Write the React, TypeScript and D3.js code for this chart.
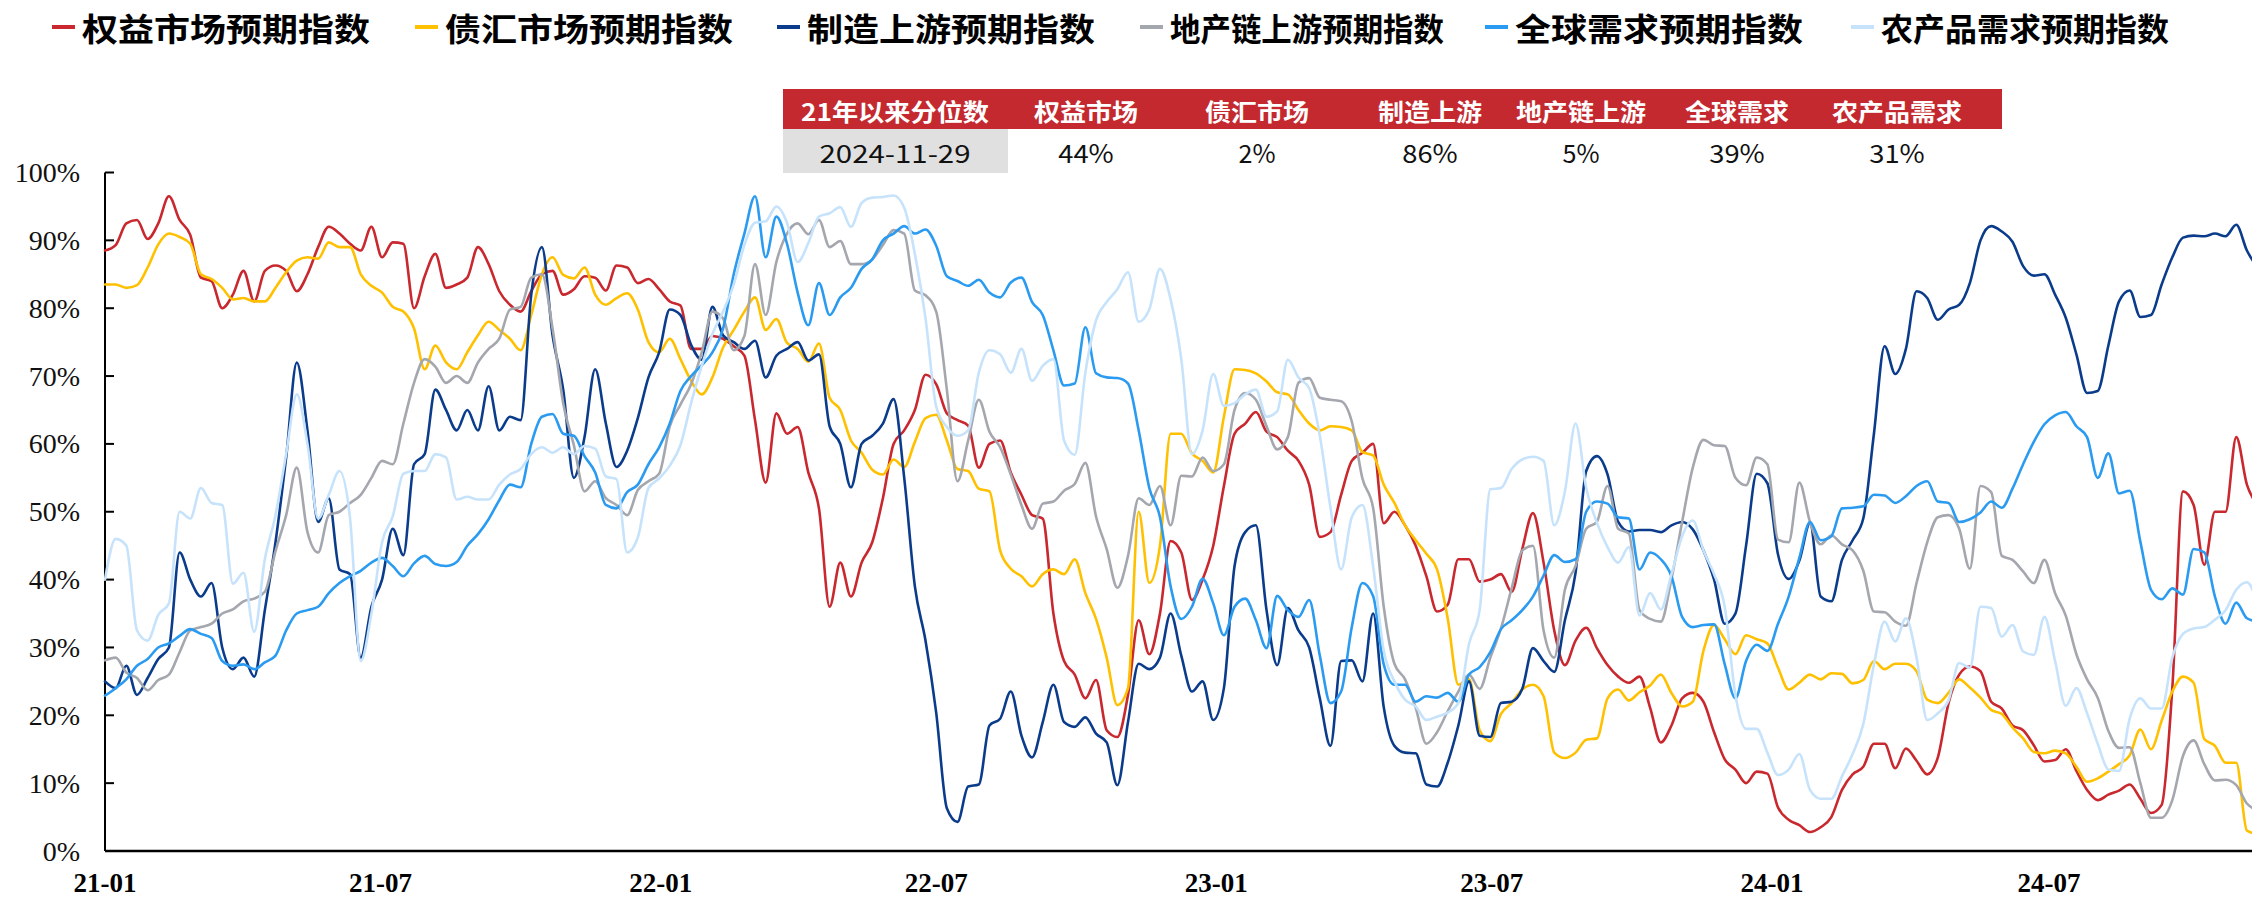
import React from "react";
import * as d3 from "d3";

// ---------- DATA (weekly samples from 2021-01-01) ----------
const seriesNames = ["权益市场预期指数", "债汇市场预期指数", "制造上游预期指数", "地产链上游预期指数", "全球需求预期指数", "农产品需求预期指数"];

const equityIdx = [
  88.5, 89.3, 92.5, 93, 90.2, 92.5, 96.5, 93, 90.8, 84.5, 84, 80, 82, 85.5, 81, 85.5, 86.3, 85.5, 82.5, 85, 89, 92, 91, 89.5, 88.5, 92, 87.5, 89.7, 89.5, 80, 84.7, 88, 83, 83.5, 84.5, 89, 86.5, 82.5, 80.5, 79.5, 82.5, 85, 85.5,
  82, 82.8, 84.7, 84.5, 82.6, 86.3, 86, 83.7, 84.3, 82.8, 81, 80.4, 74, 74, 75.9, 75.5, 74.4, 73, 63.5, 54.3, 64.5, 61.5, 62.5, 55.8, 50.5, 36, 42.5, 37.5, 42.5, 45.5, 52, 60, 62, 65, 70.2, 68.8, 64.5, 63.5, 62.7, 56.5, 60, 60.5, 55.8, 52.5, 49.5, 49, 35,
  28, 26, 22.5, 25.2, 17.8, 16.8, 23, 34, 29, 35, 45.7, 44, 37, 40, 45, 53.8, 61.5, 63, 64.7, 61.8, 61, 59, 57.5, 54, 46.3, 47, 52.5, 57.5, 58.7, 60, 48.3, 50, 48, 45, 40.5, 35.3, 36.3, 43, 43, 39.7, 40, 40.8, 38.2, 44.5, 49.8, 42.5, 32.5,
  27.4, 31, 32.9, 29.9, 27.4, 25.7, 24.8, 25.7, 21.1, 16, 18.5, 22.5, 23.3, 22, 17.5, 13.5, 12, 10, 11.7, 11.4, 6.4, 4.6, 3.8, 2.8, 3.5, 5, 9, 11.3, 12.4, 15.8, 15.8, 12.2, 15.1, 13.3, 11.3, 13.8, 21.8, 26, 27.2, 26.5, 22, 21, 18.5, 17.8, 15.6, 13.2, 13.4,
  15, 11.8, 9, 7.5, 8.3, 8.9, 9.8, 7.7, 5.6, 6.8, 24, 53, 51, 42.2, 50, 50, 61, 54, 51,
];

const bondFxIdx = [
  83.5, 83.5, 83, 83.4, 86, 89.4, 91, 90.5, 89.5, 85, 84.3, 83, 81.3, 81.5, 81, 81, 83, 85.3, 87, 87.5, 87.3, 89.7, 89, 89, 85, 83.3, 82.3, 80.2, 79.5, 77, 71, 74.5, 72, 71, 73.5, 76, 78, 76.8, 75.5, 73.8, 79, 85, 87.5,
  84.9, 84.4, 86, 82, 80.5, 81.5, 82.2, 79.8, 75, 73.5, 75.5, 72.5, 69.3, 67.3, 69.8, 74.2, 76.8, 79.5, 81.6, 76.8, 78.4, 74.9, 74, 72.1, 74.8, 66.8, 65, 60.5, 58.7, 56.2, 55.5, 57.7, 56.6, 60.3, 63.8, 64.3, 60.5, 56.3, 56, 53.4, 53, 44.3, 41.6, 40.5, 39, 40.8, 41.5,
  40.8, 43, 38, 34.2, 28.5, 21.5, 24, 50, 39.5, 45, 61.5, 61.5, 58.6, 57.5, 55.8, 64, 71, 70.9, 70.4, 69.2, 67.6, 67.3, 65, 63, 62, 62.6, 62.5, 62, 58.8, 58.3, 54, 51.3, 48, 45.8, 43.8, 41.5, 34.3, 24.5, 25.3, 17.8, 16.2, 20.2, 21.8, 23.8, 24.5, 22.8, 14.5,
  13.7, 14.5, 16.4, 16.6, 22.5, 23.8, 22.2, 23.4, 24.4, 26, 23.3, 21.3, 22, 29.5, 33.3, 31.2, 29, 31.8, 31.2, 30.6, 27, 23.8, 24.8, 26, 25.3, 26.2, 26.1, 24.7, 25.2, 28, 26.8, 27.6, 27.6, 26.5, 22.3, 21.8, 23.3, 25.3, 24.1, 22.6, 20.8, 20.2, 18.2, 16.6, 14.6, 14.4, 14.8,
  14.4, 12.4, 10.2, 10.7, 11.7, 12.8, 14.1, 17.9, 15, 19.2, 23.5, 25.7, 24.8, 16.5, 15.5, 13, 13, 3, 2.5,
];

const mfgUpIdx = [
  25, 24, 27.3, 23, 25.5, 28.3, 30, 44, 40, 37.5, 39.5, 30, 26.8, 28.5, 25.7, 35.5, 45.5, 58, 72, 62, 48.5, 52, 41.5, 40.8, 28.5, 36, 40, 47.5, 43.6, 57, 58.5, 68, 65, 62, 65, 62, 68.5, 62, 64, 63.5, 82, 89, 76,
  68, 55, 61, 71, 63, 56.6, 59, 63.8, 69.8, 73.5, 79.8, 79, 74.6, 72.4, 80.2, 76, 75, 74, 75.2, 69.8, 73, 74, 75, 72.3, 73.2, 62.6, 60, 53.6, 60, 61.2, 63, 66.6, 55, 39, 31, 20.4, 6.3, 4.3, 9.5, 9.8, 18.5, 19.5, 23.5, 17, 13.8, 19, 24.5,
  19, 18.3, 19.7, 17.3, 16, 9.7, 19, 27.6, 26.8, 28.5, 35, 28.8, 23.5, 25, 19.3, 24, 42, 47, 48, 35.5, 27.4, 35.8, 32.5, 30, 22.5, 15.5, 28, 28.1, 25, 35, 21.2, 15.5, 14.5, 14.4, 9.8, 9.5, 13, 18.5, 25, 17, 16.8, 21.8, 22, 23.9, 29.9, 28, 26.4,
  34, 41, 56, 58.2, 55.5, 48.5, 47.1, 47.3, 47.3, 47, 48, 48.5, 47.4, 44.3, 40, 33.5, 35, 45, 55.6, 54.2, 43.7, 40.1, 42.8, 48.3, 37.5, 36.8, 42.9, 45.8, 49, 61.5, 74.4, 70.3, 74, 82.5, 81.5, 78.3, 79.8, 80.5, 83.7, 90, 92.1, 91.3, 89.8, 86.2, 84.8, 85, 82,
  78.6, 73.2, 67.5, 67.8, 74.5, 81, 82.6, 78.7, 79, 83.5, 87.5, 90.4, 90.7, 90.6, 91, 90.6, 92.3, 88.5, 86,
];

const propertyUpIdx = [
  28.1, 28.5, 26.3, 25.5, 23.7, 25.2, 26, 29.3, 32.5, 33, 33.5, 35, 35.6, 36.8, 37.2, 38.2, 44.2, 49.5, 56.5, 47, 44, 49.5, 50, 51.3, 52.5, 55, 57.5, 57, 63, 69, 72.5, 71.4, 69, 70, 69, 72, 74, 75.5, 79.8, 80.2, 84.5, 85, 77,
  66, 59.8, 53, 54.5, 52, 51, 49.5, 53.2, 54.5, 55.6, 62.6, 65.8, 68.8, 73.5, 79.5, 78.5, 73.8, 75.9, 86.5, 79, 86.8, 91, 92.5, 90.9, 93, 89, 89.9, 86.5, 86.5, 87.2, 89.3, 91.5, 91, 82.6, 81.9, 79.5, 68, 54.5, 60.5, 66.5, 61.8, 59.5, 55.5, 51, 47.5, 51.2, 51.5,
  53.1, 54.1, 57.2, 49.3, 44.5, 38.8, 43.5, 52, 51, 53.8, 48, 55.3, 55.2, 58, 56, 57, 65, 67.5, 66.5, 62.6, 59.2, 61, 69, 69.7, 66.8, 66.5, 66.3, 63.3, 54.9, 50.6, 36, 27.6, 25.3, 21.1, 15.8, 17.5, 20.6, 23.5, 26, 23.9, 28.5, 32.8, 38.7, 44.3, 45, 32.5, 28.5,
  38.5, 42, 47.5, 48.5, 53.8, 47.5, 46.8, 35.5, 34.2, 33.8, 40.1, 48.5, 56.5, 60.6, 59.8, 59.7, 55, 53.9, 58, 57, 45.9, 45.5, 54.3, 48.5, 45.2, 46.5, 45.2, 44.3, 41.3, 35.3, 35.2, 33.8, 33.2, 39.5, 45.5, 49.2, 49.5, 47.5, 41.6, 53.8, 52.9, 43.5, 42.9, 41.2, 39.5, 42.9, 38,
  34.7, 29, 25.3, 22.6, 17.7, 15.2, 15.3, 10, 4.9, 4.9, 7.5, 14, 16.3, 12.8, 10.4, 10.5, 9.7, 7, 6,
];

const globalDemandIdx = [
  22.9, 24, 25.3, 27.3, 28.3, 30, 30.6, 31.7, 32.7, 32, 31.4, 28, 27.3, 27.5, 26.8, 27.8, 28.8, 32.5, 35, 35.5, 36, 38, 39.5, 40.5, 41.3, 42.5, 43.2, 42, 40.5, 42.4, 43.5, 42.3, 42, 42.6, 45, 46.7, 48.9, 51.7, 54, 53.6, 60, 64, 64.4,
  61.5, 61.2, 58.2, 55.8, 51, 50.5, 52.9, 54, 57, 59.5, 63, 67.8, 70, 71.6, 73.5, 77, 85, 91, 96.5, 87.5, 93.5, 89.5, 82.3, 77.5, 83.7, 79, 81.6, 83, 85.8, 87.2, 90, 91, 92.1, 91, 91.6, 89.2, 84.7, 84, 83.3, 84.2, 82.3, 81.6, 83.8, 84.5, 80.9, 79, 73.8,
  68.6, 68.9, 77.2, 70.4, 69.8, 69.7, 68.9, 62, 53.5, 49.2, 39, 34.2, 36, 40.1, 36.5, 31.8, 36, 37.2, 34, 29.9, 37.6, 35.5, 34.5, 37, 28.8, 21.8, 23.5, 33, 39.5, 37.6, 27.5, 24.5, 24.5, 22, 22.8, 22.6, 23.3, 22, 26, 27.1, 29.3, 32.7, 34, 35.5, 37.5, 40.6, 43.6,
  42.6, 43, 50, 51.5, 51.2, 49.2, 49, 41.5, 44, 43, 40.5, 34.5, 33, 33.3, 33.4, 27.5, 22.5, 28, 30.4, 29.5, 33.5, 37.5, 43.2, 48.5, 45.8, 46.4, 50.5, 50.6, 50.8, 52.5, 52.4, 51.3, 52.3, 53.8, 54.5, 51.5, 51.3, 48.5, 48.9, 49.9, 51.5, 50.6, 53.4, 57, 60.3, 62.9, 64.2,
  64.7, 62.6, 61, 55, 58.6, 52.7, 53.1, 45.6, 38.5, 37.1, 38.7, 37.8, 44.5, 44, 37.5, 33.5, 36.6, 34.3, 33.8,
];

const agriDemandIdx = [
  40, 46, 45, 32.5, 31, 34.8, 36.5, 50, 49, 53.5, 51.3, 51, 39.4, 41, 32.3, 43, 49.5, 58.5, 67.3, 60, 49, 52.5, 56, 49, 28, 35, 45.5, 49.3, 55.6, 56, 56, 58.5, 58, 51.8, 52.2, 51.8, 51.8, 54, 55.5, 56.3, 58.5, 59.5, 58.7,
  59.5, 58.5, 59.7, 59.3, 55.2, 54.8, 44, 46.2, 53.5, 54.9, 56.8, 59.8, 66, 71.5, 76.2, 79.5, 83.5, 89.3, 92.6, 92.8, 95, 92.6, 86.8, 89.6, 93.5, 94, 94.9, 92, 95.5, 96.3, 96.4, 96.6, 94.8, 88, 78.5, 65.5, 62.5, 61.2, 62, 70.5, 73.8, 73.2, 70.5, 74, 69.3, 71.5, 72.5,
  60.5, 58.4, 70.5, 78.2, 80.9, 82.8, 85.3, 78, 79.8, 85.8, 81.3, 72.5, 58.5, 62, 70.3, 65.6, 66, 67.3, 68, 64, 64.8, 72.4, 69.8, 68.2, 61.2, 50.6, 41.5, 49.2, 51, 42, 29.5, 25, 22.3, 21.3, 19.3, 19.8, 20.4, 21.8, 30.5, 35.5, 53.3, 53.5, 56.3, 57.7, 58.1, 57.5, 48,
  53, 63, 53.5, 48.4, 44.8, 42.5, 44.8, 34.7, 38, 35.6, 40.8, 46.4, 48.7, 44.3, 40.8, 36, 23, 18, 18, 14.5, 11.2, 12, 14.3, 9, 7.7, 7.7, 11, 14.3, 18.7, 27.5, 33.8, 30.9, 34.3, 28.5, 19.3, 20.3, 22.2, 27.7, 27, 36, 35.8, 31.6, 33.3, 29.4, 28.9, 34.5, 28,
  21.4, 24, 20.3, 15.8, 12, 11.8, 19.5, 22.5, 21, 21, 28.5, 32, 32.8, 33, 34.1, 35.5, 38.5, 39.6, 36.5,
];

const yTickValues = [0, 10, 20, 30, 40, 50, 60, 70, 80, 90, 100];
const xTickLabels = ["21-01", "21-07", "22-01", "22-07", "23-01", "23-07", "24-01", "24-07"];

const tableHeaders = ["21年以来分位数", "权益市场", "债汇市场", "制造上游", "地产链上游", "全球需求", "农产品需求"];
const tableValues = ["2024-11-29", "44%", "2%", "86%", "5%", "39%", "31%"];

// ---------- STYLE / LAYOUT ----------
const W = 2252;
const H = 898;
const colors = ["#C8282E", "#FFC000", "#0B3C8C", "#A5A7AF", "#2A9BF0", "#C6E3FB"];
const START = new Date(2021, 0, 1);

const legendTextStarts = [82, 445, 807, 1170, 1515, 1881];
const legendTextWidths = [288, 288, 288, 274, 288, 288];
const tableColCenters = [895, 1086, 1257, 1430, 1581, 1737, 1897];
const tableHeaderWidths = [188, 104, 104, 104, 130, 104, 130];

export default function App() {
  const x = d3.scaleTime().domain([new Date(2021, 0, 1), new Date(2024, 6, 1)]).range([105, 2049]);
  const y = d3.scaleLinear().domain([0, 100]).range([851, 172.5]);

  const allSeries = [equityIdx, bondFxIdx, mfgUpIdx, propertyUpIdx, globalDemandIdx, agriDemandIdx];
  const line = d3
    .line<number>()
    .x((_, i) => x(d3.timeDay.offset(START, 7 * i)))
    .y((d) => y(d))
    .curve(d3.curveMonotoneX);

  const xTickDates = xTickLabels.map((s) => {
    const [yy, mm] = s.split("-").map(Number);
    return new Date(2000 + yy, mm - 1, 1);
  });

  const cjk = '"Noto Sans CJK SC", "Microsoft YaHei", sans-serif';
  const serif = '"Liberation Serif", "Times New Roman", "DejaVu Serif", serif';

  return (
    <div style={{ width: W, height: H, overflow: "hidden", background: "#fff" }}>
      <style>{`body{margin:0;background:#fff}`}</style>
      <svg width={W} height={H} style={{ display: "block" }}>
        <rect x={0} y={0} width={W} height={H} fill="#fff" />

        {/* Legend */}
        {seriesNames.map((name, k) => {
          const tx = legendTextStarts[k];
          return (
            <g key={name}>
              <line x1={tx - 30} x2={tx - 7} y1={27} y2={27} stroke={colors[k]} strokeWidth={4} />
              <text
                x={tx}
                y={27}
                dominantBaseline="central"
                fontFamily={cjk}
                fontWeight={700}
                fontSize={32}
                textLength={legendTextWidths[k]}
                lengthAdjust="spacingAndGlyphs"
                fill="#000"
              >
                {name}
              </text>
            </g>
          );
        })}

        {/* Table */}
        <rect x={783} y={89} width={1219} height={40} fill="#C4292F" />
        <rect x={783} y={129} width={225} height={44} fill="#E0E0E0" />
        {tableHeaders.map((h, k) => (
          <text
            key={h}
            x={tableColCenters[k]}
            y={110}
            textAnchor="middle"
            dominantBaseline="central"
            fontFamily={cjk}
            fontWeight={700}
            fontSize={24}
            textLength={tableHeaderWidths[k]}
            lengthAdjust="spacingAndGlyphs"
            fill="#fff"
          >
            {h}
          </text>
        ))}
        {tableValues.map((v, k) => (
          <text
            key={k}
            x={tableColCenters[k]}
            y={152}
            textAnchor="middle"
            dominantBaseline="central"
            fontFamily={cjk}
            fontWeight={400}
            fontSize={25}
            textLength={k === 0 ? 151 : v.length * 18.5}
            lengthAdjust="spacingAndGlyphs"
            fill="#111"
          >
            {v}
          </text>
        ))}

        {/* Y axis */}
        <line x1={105} x2={105} y1={y(100)} y2={y(0)} stroke="#000" strokeWidth={2} />
        {yTickValues.map((t) => (
          <g key={t}>
            <line x1={105} x2={114} y1={y(t)} y2={y(t)} stroke="#000" strokeWidth={2} />
            <text
              x={80}
              y={y(t)}
              textAnchor="end"
              dominantBaseline="central"
              fontFamily={serif}
              fontSize={28}
              fill="#111"
            >
              {`${t}%`}
            </text>
          </g>
        ))}

        {/* Series lines */}
        <g>
          {allSeries.map((s, k) => (
            <path
              key={k}
              d={line(s) || ""}
              fill="none"
              stroke={colors[k]}
              strokeWidth={2.6}
              strokeLinejoin="round"
              strokeLinecap="round"
            />
          ))}
        </g>

        {/* X axis */}
        <line x1={105} x2={W} y1={y(0)} y2={y(0)} stroke="#000" strokeWidth={2.5} />
        {xTickDates.map((d, k) => (
          <text
            key={k}
            x={x(d)}
            y={892}
            textAnchor="middle"
            fontFamily={serif}
            fontWeight={700}
            fontSize={27}
            fill="#000"
          >
            {xTickLabels[k]}
          </text>
        ))}
      </svg>
    </div>
  );
}
